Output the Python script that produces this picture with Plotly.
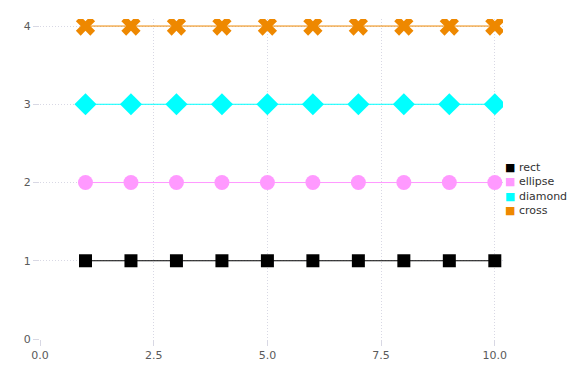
import plotly.graph_objects as go

x_vals = [1, 2, 3, 4, 5, 6, 7, 8, 9, 10]
names = ["rect", "ellipse", "diamond", "cross"]
y_rect = [1, 1, 1, 1, 1, 1, 1, 1, 1, 1]
y_ellipse = [2, 2, 2, 2, 2, 2, 2, 2, 2, 2]
y_diamond = [3, 3, 3, 3, 3, 3, 3, 3, 3, 3]
y_cross = [4, 4, 4, 4, 4, 4, 4, 4, 4, 4]
x_ticks = [0, 2.5, 5, 7.5, 10]
y_ticks = [0, 1, 2, 3, 4]

series = [y_rect, y_ellipse, y_diamond, y_cross]
colors = ["#000000", "#FF99FF", "#00FFFF", "#EE8800"]
symbols = ["square", "circle", "diamond", "x"]
sizes = [13, 15, 17, 17]

fig = go.Figure()
for name, ys, c, s, sz in zip(names, series, colors, symbols, sizes):
    fig.add_trace(go.Scatter(x=x_vals, y=ys, mode="lines+markers", name=name,
                             line=dict(color=c, width=1),
                             marker=dict(color=c, symbol=s, size=sz, line=dict(width=0)),
                             showlegend=False, hoverinfo="x+y+name"))

# compact legend as text
legend_lines = [f'<span style="color:{c}">■</span> {n}' for n, c in zip(names, colors)]
fig.add_annotation(xref="paper", yref="paper", x=1.0, y=0.468, xanchor="left", yanchor="middle",
                   align="left", showarrow=False, text="<br>".join(legend_lines),
                   font=dict(family="DejaVu Sans", size=11, color="#333333"))

axis_common = dict(showgrid=True, gridcolor="#d8d8e4", griddash="1px,2px", gridwidth=1,
                   zeroline=False, showline=False, ticks="outside", ticklen=6, automargin=False,
                   tickcolor="#d8d8e4", tickfont=dict(family="DejaVu Sans", size=11, color="#5a5a5a"))
fig.update_xaxes(range=[0, 10.18], tickvals=x_ticks, tickformat=".1f", **axis_common)
fig.update_yaxes(range=[0, 4.09], tickvals=y_ticks, **axis_common)

fig.update_layout(
    width=576, height=384,
    margin=dict(l=40, r=73, t=19, b=45),
    plot_bgcolor="white", paper_bgcolor="white",
    font=dict(family="DejaVu Sans", size=11, color="#333333"),
    showlegend=False,
)
fig.write_html("out.html", config={"displayModeBar": False},
               post_script="document.body.style.margin='0';")
